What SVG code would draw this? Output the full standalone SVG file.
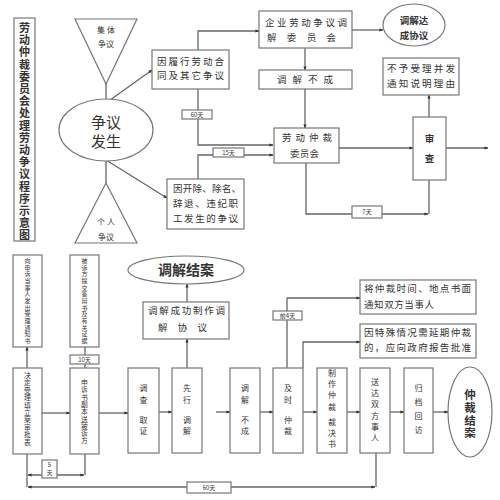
<svg xmlns="http://www.w3.org/2000/svg" width="500" height="500" viewBox="0 0 500 500">
<defs>
<marker id="ah" viewBox="0 0 10 10" refX="9" refY="5" markerWidth="4" markerHeight="4" orient="auto-start-reverse" markerUnits="userSpaceOnUse">
<path d="M0,1 L10,5 L0,9 z" fill="#333"/>
</marker>
<style>
text{font-family:"Noto Sans CJK SC","Noto Sans CJK JP",sans-serif;fill:#333;}
.b{fill:#fff;stroke:#777;stroke-width:1.2;}
.l{fill:none;stroke:#666;stroke-width:1.3;}
.a{marker-end:url(#ah);}
.s{marker-start:url(#ah);}
.t10{font-size:9.5px;}
.t8{font-size:8px;}
.v7{font-size:6px;}
.v8{font-size:6.8px;}
.lab{font-size:6px;}
.c{text-anchor:middle;}
.bd{font-weight:bold;}
</style>
</defs>
<rect width="500" height="500" fill="#fff"/>

<g id="connectors">
<line class="l" x1="106" y1="83" x2="106" y2="100"/>
<line class="l" x1="106" y1="160" x2="106" y2="183"/>
<line class="l a" x1="106" y1="103" x2="152" y2="70"/>
<line class="l a" x1="106" y1="160" x2="167" y2="198"/>
<polyline class="l a" points="198,50 198,31 259,31"/>
<polyline class="l a" points="198,89 198,145 273,145"/>
<polyline class="l a" points="198,179 198,155 273,155"/>
<line class="l a" x1="352" y1="30" x2="383" y2="30"/>
<line class="l a" x1="305" y1="48" x2="305" y2="70"/>
<line class="l a" x1="305" y1="89" x2="305" y2="128"/>
<line class="l a" x1="339" y1="148" x2="413" y2="148"/>
<line class="l a" x1="446" y1="148" x2="488" y2="148"/>
<line class="l a" x1="429" y1="117" x2="429" y2="95"/>
<polyline class="l a" points="306,163 306,214 428,214"/>
<line class="l" x1="429" y1="180" x2="429" y2="214"/>
<line class="l a" x1="27" y1="368" x2="27" y2="347"/>
<line class="l" x1="85" y1="368" x2="85" y2="347"/>
<line class="l a" x1="42" y1="413" x2="70" y2="413"/>
<line class="l a" x1="99" y1="413" x2="128" y2="413"/>
<line class="l a" x1="159" y1="412" x2="172" y2="412"/>
<line class="l a" x1="216" y1="412" x2="230" y2="412"/>
<line class="l a" x1="260" y1="412" x2="273" y2="412"/>
<line class="l a" x1="303" y1="412" x2="317" y2="412"/>
<line class="l a" x1="347" y1="412" x2="360" y2="412"/>
<line class="l a" x1="390" y1="412" x2="404" y2="412"/>
<line class="l a" x1="433" y1="412" x2="448" y2="412"/>
<line class="l a" x1="187" y1="368" x2="187" y2="339"/>
<line class="l a" x1="187" y1="302" x2="187" y2="284"/>
<polyline class="l a" points="287,368 287,298 360,298"/>
<polyline class="l a" points="303,368 303,342 360,342"/>
<line class="l" x1="27" y1="454" x2="27" y2="487"/>
<line class="l" x1="85" y1="454" x2="85" y2="475"/>
<line class="l a s" x1="28" y1="475" x2="84" y2="475"/>
<line class="l" x1="376" y1="453" x2="376" y2="487"/>
<line class="l a s" x1="28" y1="487" x2="375" y2="487"/>
</g>

<g id="title">
<rect class="b" x="14" y="18" width="21" height="223" stroke="#444"/>
<text class="bd c" x="24.5" y="32" style="font-size:11px"><tspan x="24.5" dy="0">劳</tspan><tspan x="24.5" dy="12.2">动</tspan><tspan x="24.5" dy="12.2">仲</tspan><tspan x="24.5" dy="12.2">裁</tspan><tspan x="24.5" dy="12.2">委</tspan><tspan x="24.5" dy="12.2">员</tspan><tspan x="24.5" dy="12.2">会</tspan><tspan x="24.5" dy="12.2">处</tspan><tspan x="24.5" dy="12.2">理</tspan><tspan x="24.5" dy="12.2">劳</tspan><tspan x="24.5" dy="12.2">动</tspan><tspan x="24.5" dy="12.2">争</tspan><tspan x="24.5" dy="12.2">议</tspan><tspan x="24.5" dy="12.2">程</tspan><tspan x="24.5" dy="12.2">序</tspan><tspan x="24.5" dy="12.2">示</tspan><tspan x="24.5" dy="12.2">意</tspan><tspan x="24.5" dy="12.2">图</tspan></text>
</g>

<g id="collective">
<polygon class="b" points="75,19 137,19 106,84"/>
<text class="t8 c" x="106" y="33">集 体</text>
<text class="t8 c" x="106" y="47">争议</text>
</g>

<g id="dispute">
<ellipse class="b" cx="106" cy="130" rx="47" ry="31"/>
<text class="c" x="106" y="128" style="font-size:15px">争议</text>
<text class="c" x="106" y="147" style="font-size:15px">发生</text>
</g>

<g id="individual">
<polygon class="b" points="106,183 137,243 75,243"/>
<text class="t8 c" x="106" y="225">个 人</text>
<text class="t8 c" x="106" y="240">争议</text>
</g>

<g id="contract">
<rect class="b" x="152" y="50" width="77" height="39"/>
<text class="t10" x="157" y="65" textLength="67" lengthAdjust="spacing">因履行劳动合</text>
<text class="t10" x="157" y="79" textLength="67" lengthAdjust="spacing">同及其它争议</text>
</g>

<g id="enterprise">
<rect class="b" x="259" y="11" width="93" height="37"/>
<text class="t10" x="265" y="26" textLength="82" lengthAdjust="spacing">企业劳动争议调</text>
<text class="t10" x="267" y="41" textLength="69" lengthAdjust="spacing">解委员会</text>
</g>

<g id="agreement">
<ellipse class="b" cx="414" cy="25" rx="31" ry="21"/>
<text class="t10 c bd" x="414" y="24">调解达</text>
<text class="t10 c bd" x="414" y="39">成协议</text>
</g>

<g id="fail1">
<rect class="b" x="259" y="70" width="93" height="19"/>
<text class="t10" x="277" y="83" textLength="56" lengthAdjust="spacing">调解不成</text>
</g>

<g id="reject">
<rect class="b" x="383" y="58" width="76" height="37"/>
<text class="t10" x="387" y="72" textLength="68" lengthAdjust="spacing">不予受理并发</text>
<text class="t10" x="387" y="87" textLength="68" lengthAdjust="spacing">通知说明理由</text>
</g>

<g id="committee">
<rect class="b" x="274" y="128" width="65" height="35"/>
<text class="t10" x="282" y="141" textLength="50" lengthAdjust="spacing">劳动仲裁</text>
<text class="t10" x="290" y="157" textLength="29" lengthAdjust="spacing">委员会</text>
</g>

<g id="review">
<rect class="b" x="413" y="117" width="33" height="63"/>
<text class="t10 c bd" x="429.5" y="142">审</text>
<text class="t10 c bd" x="429.5" y="162">查</text>
</g>

<g id="dismissal">
<rect class="b" x="167" y="179" width="77" height="50"/>
<text class="t10" x="173" y="192" textLength="68" lengthAdjust="spacing">因开除、除名、</text>
<text class="t10" x="173" y="207" textLength="65" lengthAdjust="spacing">辞退、违纪职</text>
<text class="t10" x="173" y="222" textLength="65" lengthAdjust="spacing">工发生的争议</text>
</g>

<g id="labels-top">
<rect class="b" x="182" y="110" width="30" height="9"/>
<text class="lab c" x="197" y="117">60天</text>
<rect class="b" x="213" y="148" width="31" height="9"/>
<text class="lab c" x="228.5" y="155">15天</text>
<rect class="b" x="352" y="206" width="30" height="12"/>
<text class="lab c" x="367" y="214">7天</text>
</g>

<g id="notice">
<rect class="b" x="13" y="255" width="29" height="92"/>
<text class="v7 c" x="27.5" y="263"><tspan x="27.5" dy="0">向</tspan><tspan x="27.5" dy="6.67">申</tspan><tspan x="27.5" dy="6.67">诉</tspan><tspan x="27.5" dy="6.67">当</tspan><tspan x="27.5" dy="6.67">事</tspan><tspan x="27.5" dy="6.67">人</tspan><tspan x="27.5" dy="6.67">发</tspan><tspan x="27.5" dy="6.67">出</tspan><tspan x="27.5" dy="6.67">受</tspan><tspan x="27.5" dy="6.67">理</tspan><tspan x="27.5" dy="6.67">通</tspan><tspan x="27.5" dy="6.67">知</tspan><tspan x="27.5" dy="6.67">书</tspan></text>
</g>

<g id="defense">
<rect class="b" x="70" y="255" width="29" height="92"/>
<text class="v7 c" x="84.5" y="263"><tspan x="84.5" dy="0">被</tspan><tspan x="84.5" dy="6.67">诉</tspan><tspan x="84.5" dy="6.67">方</tspan><tspan x="84.5" dy="6.67">提</tspan><tspan x="84.5" dy="6.67">交</tspan><tspan x="84.5" dy="6.67">答</tspan><tspan x="84.5" dy="6.67">辩</tspan><tspan x="84.5" dy="6.67">书</tspan><tspan x="84.5" dy="6.67">及</tspan><tspan x="84.5" dy="6.67">有</tspan><tspan x="84.5" dy="6.67">关</tspan><tspan x="84.5" dy="6.67">证</tspan><tspan x="84.5" dy="6.67">据</tspan></text>
</g>

<g id="accept">
<rect class="b" x="13" y="368" width="29" height="86"/>
<text class="v8 c" x="27.5" y="378"><tspan x="27.5" dy="0">决</tspan><tspan x="27.5" dy="7.4">定</tspan><tspan x="27.5" dy="7.4">受</tspan><tspan x="27.5" dy="7.4">理</tspan><tspan x="27.5" dy="7.4">填</tspan><tspan x="27.5" dy="7.4">立</tspan><tspan x="27.5" dy="7.4">案</tspan><tspan x="27.5" dy="7.4">审</tspan><tspan x="27.5" dy="7.4">批</tspan><tspan x="27.5" dy="7.4">表</tspan></text>
</g>

<g id="copy">
<rect class="b" x="70" y="368" width="29" height="86"/>
<text class="v8 c" x="84.5" y="385"><tspan x="84.5" dy="0">申</tspan><tspan x="84.5" dy="7.3">诉</tspan><tspan x="84.5" dy="7.3">书</tspan><tspan x="84.5" dy="7.3">副</tspan><tspan x="84.5" dy="7.3">本</tspan><tspan x="84.5" dy="7.3">送</tspan><tspan x="84.5" dy="7.3">被</tspan><tspan x="84.5" dy="7.3">诉</tspan><tspan x="84.5" dy="7.3">方</tspan></text>
</g>

<g id="investigate">
<rect class="b" x="128" y="368" width="31" height="85"/>
<text class="t8 c" x="143.5" y="391"><tspan x="143.5" dy="0">调</tspan><tspan x="143.5" dy="12">查</tspan><tspan x="143.5" dy="20">取</tspan><tspan x="143.5" dy="11">证</tspan></text>
</g>

<g id="mediate">
<rect class="b" x="172" y="368" width="30" height="85"/>
<text class="t8 c" x="187" y="391"><tspan x="187" dy="0">先</tspan><tspan x="187" dy="12">行</tspan><tspan x="187" dy="20">调</tspan><tspan x="187" dy="11">解</tspan></text>
</g>

<g id="fail2">
<rect class="b" x="230" y="368" width="30" height="85"/>
<text class="t8 c" x="245" y="391"><tspan x="245" dy="0">调</tspan><tspan x="245" dy="12">解</tspan><tspan x="245" dy="20">不</tspan><tspan x="245" dy="11">成</tspan></text>
</g>

<g id="arbitrate">
<rect class="b" x="273" y="368" width="30" height="85"/>
<text class="t8 c" x="288" y="391"><tspan x="288" dy="0">及</tspan><tspan x="288" dy="12">时</tspan><tspan x="288" dy="20">仲</tspan><tspan x="288" dy="11">裁</tspan></text>
</g>

<g id="award">
<rect class="b" x="317" y="368" width="30" height="85"/>
<text class="t8 c" x="332" y="376"><tspan x="332" dy="0">制</tspan><tspan x="332" dy="11.2">作</tspan><tspan x="332" dy="11.2">仲</tspan><tspan x="332" dy="11.2">裁</tspan><tspan x="332" dy="15">裁</tspan><tspan x="332" dy="11.2">决</tspan><tspan x="332" dy="11.2">书</tspan></text>
</g>

<g id="deliver">
<rect class="b" x="360" y="368" width="30" height="85"/>
<text class="t8 c" x="375" y="385"><tspan x="375" dy="0">送</tspan><tspan x="375" dy="11.2">达</tspan><tspan x="375" dy="11.2">双</tspan><tspan x="375" dy="11.2">方</tspan><tspan x="375" dy="11.2">事</tspan><tspan x="375" dy="11.2">人</tspan></text>
</g>

<g id="archive">
<rect class="b" x="404" y="368" width="29" height="85"/>
<text class="t8 c" x="418.5" y="391"><tspan x="418.5" dy="0">归</tspan><tspan x="418.5" dy="14">档</tspan><tspan x="418.5" dy="14">回</tspan><tspan x="418.5" dy="14">访</tspan></text>
</g>

<g id="closed">
<ellipse class="b" cx="470" cy="412" rx="22" ry="45"/>
<text class="c bd" x="470" y="399" style="font-size:11.5px"><tspan x="470" dy="0">仲</tspan><tspan x="470" dy="12.8">裁</tspan><tspan x="470" dy="12.8">结</tspan><tspan x="470" dy="12.8">案</tspan></text>
</g>

<g id="success">
<rect class="b" x="143" y="302" width="86" height="37"/>
<text class="t10" x="148" y="314" textLength="77" lengthAdjust="spacing">调解成功制作调</text>
<text class="t10" x="158" y="331" textLength="49" lengthAdjust="spacing">解协议</text>
</g>

<g id="mediation-closed">
<ellipse class="b" cx="186" cy="270" rx="58" ry="14"/>
<text class="c bd" x="186" y="275" style="font-size:14px">调解结案</text>
</g>

<g id="notify">
<rect class="b" x="360" y="280" width="116" height="34"/>
<text class="t10" x="364" y="292" textLength="107" lengthAdjust="spacing">将仲裁时间、地点书面</text>
<text class="t10" x="364" y="308" textLength="70" lengthAdjust="spacing">通知双方当事人</text>
</g>

<g id="extend">
<rect class="b" x="360" y="324" width="116" height="34"/>
<text class="t10" x="364" y="336" textLength="107" lengthAdjust="spacing">因特殊情况需延期仲裁</text>
<text class="t10" x="364" y="351" textLength="107" lengthAdjust="spacing">的，应向政府报告批准</text>
</g>

<g id="labels-bottom">
<rect class="b" x="70" y="355" width="29" height="9"/>
<text class="lab c" x="84.5" y="362">10天</text>
<rect class="b" x="273" y="311" width="29" height="9"/>
<text class="lab c" x="287.5" y="318">前4天</text>
<rect class="b" x="42" y="460" width="15" height="18"/>
<text class="lab c" x="49.5" y="467">5</text>
<text class="lab c" x="49.5" y="475">天</text>
<rect class="b" x="187" y="482" width="44" height="11"/>
<text class="lab c" x="209" y="490">60天</text>
</g>
</svg>
